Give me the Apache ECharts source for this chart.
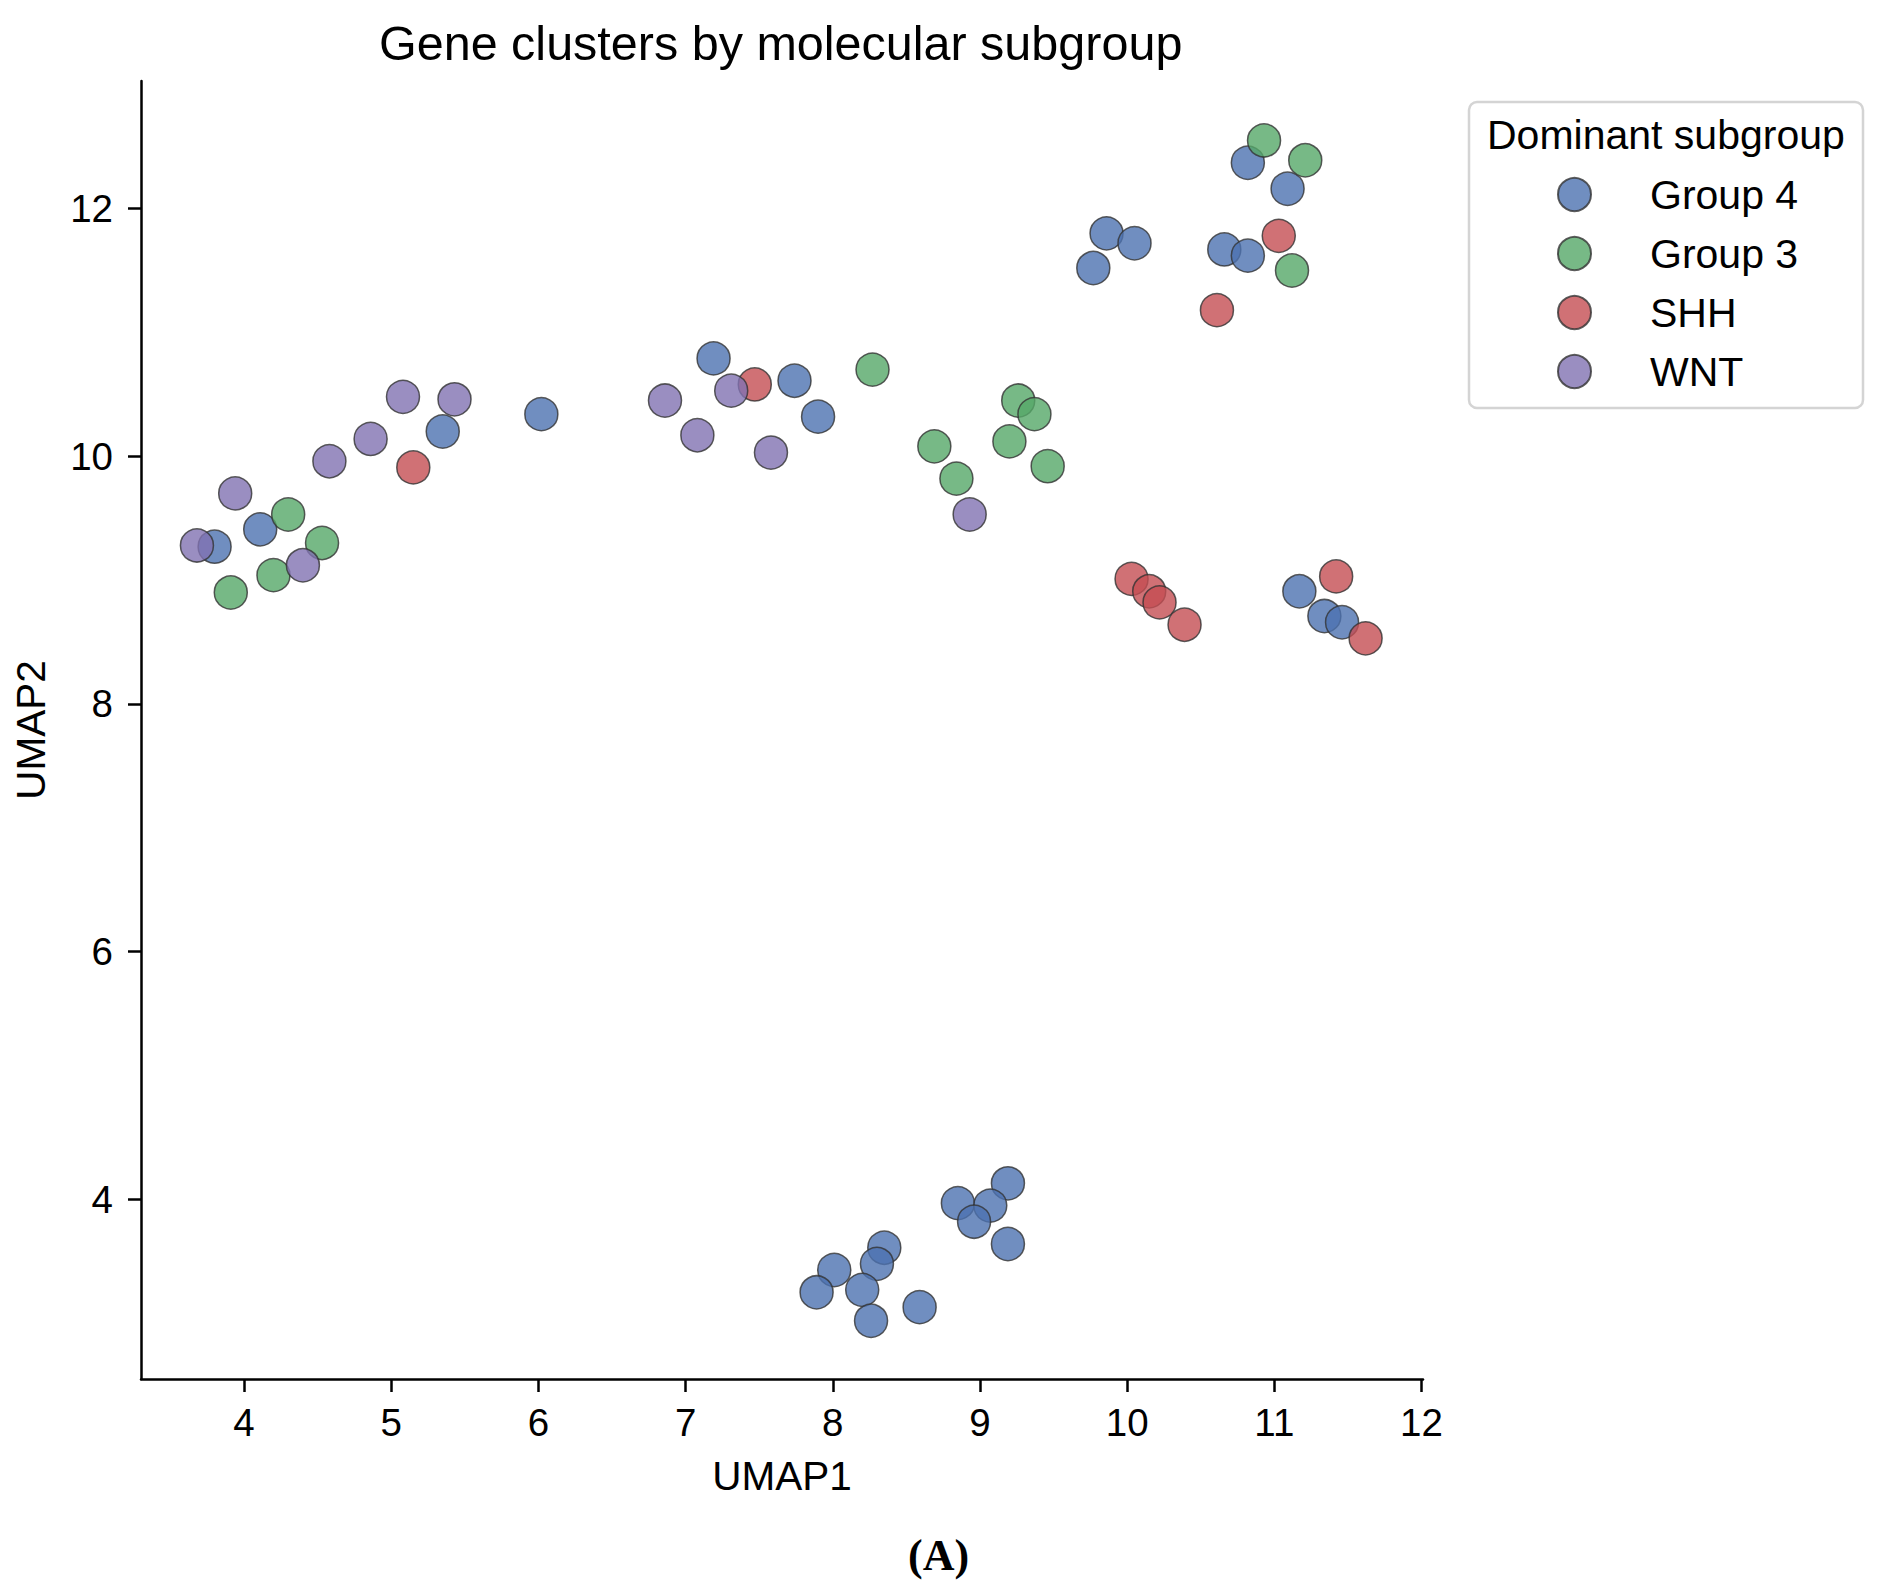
<!DOCTYPE html>
<html>
<head>
<meta charset="utf-8">
<title>Gene clusters by molecular subgroup</title>
<script src="https://cdn.jsdelivr.net/npm/echarts@6/dist/echarts.min.js"></script>
<style>
  html, body { margin: 0; padding: 0; background: #fff; }
  #main { width: 1881px; height: 1594px; }
</style>
</head>
<body>
<div id="main"></div>
<script>
// UMAP coordinates [UMAP1, UMAP2]
var group4 = [
    [3.80, 9.27], [4.11, 9.41], [5.35, 10.20], [6.02, 10.34],
    [7.19, 10.79], [7.74, 10.61], [7.90, 10.32],
    [9.86, 11.80], [10.05, 11.72], [9.77, 11.52], [10.66, 11.67], [10.82, 11.62],
    [10.82, 12.37], [11.09, 12.16],
    [11.17, 8.91], [11.34, 8.71], [11.46, 8.66],
    [9.19, 4.13], [8.85, 3.97], [9.07, 3.95], [8.96, 3.82], [9.19, 3.64],
    [8.35, 3.61], [8.30, 3.48], [8.01, 3.43], [7.89, 3.25], [8.20, 3.27],
    [8.26, 3.02], [8.59, 3.13]
];
var group3 = [
    [4.30, 9.53], [3.91, 8.90], [4.20, 9.04], [4.53, 9.30],
    [8.27, 10.70], [8.69, 10.08], [8.84, 9.82],
    [9.26, 10.45], [9.37, 10.34], [9.20, 10.12], [9.46, 9.92],
    [11.12, 11.50], [10.93, 12.55], [11.21, 12.39]
];
var shh = [
    [5.15, 9.91], [7.47, 10.58],
    [10.03, 9.01], [10.15, 8.91], [10.22, 8.82], [10.39, 8.64],
    [11.42, 9.03], [11.62, 8.53],
    [11.03, 11.78], [10.61, 11.18]
];
var wnt = [
    [3.68, 9.28], [3.94, 9.70], [4.40, 9.12], [4.58, 9.96], [4.86, 10.14],
    [5.08, 10.48], [5.43, 10.46],
    [6.86, 10.45], [7.31, 10.53], [7.08, 10.17], [7.58, 10.03], [8.93, 9.53]
];

var groupNames = ['Group 4', 'Group 3', 'SHH', 'WNT'];
var groupData = [group4, group3, shh, wnt];
var groupColors = ['#4C72B0', '#55A868', '#C44E52', '#8172B2'];

var xTicks = [4, 5, 6, 7, 8, 9, 10, 11, 12];
var yTicks = [4, 6, 8, 10, 12];

var font = 'Liberation Sans, Arial, sans-serif';

var myChart = echarts.init(document.getElementById('main'), null, {renderer: 'svg'});

var series = [];
for (var i = 0; i < groupNames.length; i++) {
    series.push({
        name: groupNames[i],
        type: 'scatter',
        data: groupData[i],
        symbol: 'circle',
        symbolSize: 33,
        itemStyle: {
            color: groupColors[i],
            opacity: 0.8,
            borderColor: '#333',
            borderWidth: 1.5
        },
        emphasis: {disabled: true}
    });
}

var axisLine = {show: true, lineStyle: {color: '#000', width: 2.5}};

var option = {
    animation: false,
    backgroundColor: '#fff',
    title: [{
        text: 'Gene clusters by molecular subgroup',
        left: 379,
        top: 18,
        padding: 0,
        textStyle: {fontFamily: font, fontSize: 48.5, fontWeight: 'normal', color: '#000'}
    }, {
        text: 'Dominant subgroup',
        left: 1487,
        top: 114,
        padding: 0,
        textStyle: {fontFamily: font, fontSize: 41, fontWeight: 'normal', color: '#000'}
    }, {
        text: '(A)',
        left: 908,
        top: 1533,
        padding: 0,
        textStyle: {fontFamily: 'Liberation Serif, Times New Roman, serif', fontSize: 44, fontWeight: 'bold', color: '#000'}
    }],
    graphic: [{
        type: 'rect',
        z: 0,
        shape: {x: 1469, y: 102, width: 394, height: 306, r: 8},
        style: {fill: '#fff', stroke: '#d4d4d4', lineWidth: 2.5}
    }],
    legend: {
        data: groupNames,
        orient: 'vertical',
        left: 1557,
        top: 174,
        padding: 0,
        itemWidth: 33,
        itemHeight: 33,
        itemGap: 18,
        icon: 'circle',
        selectedMode: false,
        textStyle: {fontFamily: font, fontSize: 41, color: '#000', lineHeight: 33, padding: [0, 0, 0, 54]}
    },
    grid: {left: 141, right: 458, top: 81, bottom: 215, containLabel: false},
    xAxis: {
        type: 'value',
        min: 3.3,
        max: 12.01,
        name: 'UMAP1',
        nameLocation: 'middle',
        nameGap: 76,
        nameTextStyle: {fontFamily: font, fontSize: 40.5, color: '#000'},
        axisLine: axisLine,
        axisTick: {show: true, length: 13, lineStyle: {color: '#000', width: 2.5}, customValues: xTicks},
        axisLabel: {fontFamily: font, fontSize: 38.5, color: '#000', margin: 24, customValues: xTicks},
        splitLine: {show: false}
    },
    yAxis: {
        type: 'value',
        min: 2.55,
        max: 13.03,
        name: 'UMAP2',
        nameLocation: 'middle',
        nameGap: 90,
        nameTextStyle: {fontFamily: font, fontSize: 40.5, color: '#000'},
        axisLine: axisLine,
        axisTick: {show: true, length: 13, lineStyle: {color: '#000', width: 2.5}, customValues: yTicks},
        axisLabel: {fontFamily: font, fontSize: 38.5, color: '#000', margin: 28, customValues: yTicks},
        splitLine: {show: false}
    },
    series: series
};

myChart.setOption(option);
</script>
</body>
</html>
